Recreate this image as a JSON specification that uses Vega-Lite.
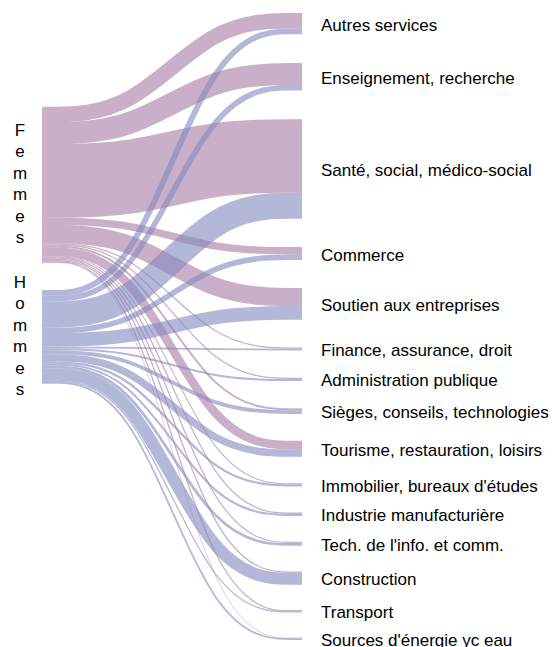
{
  "$schema": "https://vega.github.io/schema/vega-lite/v6.json",
  "autosize": {"type": "none"},
  "width": 260,
  "height": 627,
  "padding": {"left": 42, "top": 13, "right": 251, "bottom": 7},
  "background": "#ffffff",
  "config": {"view": {"stroke": null}, "font": "Liberation Sans"},
  "data": {
    "values": [
      {"sexe": "Femmes", "secteur": "Autres services", "valeur": 6.1},
      {"sexe": "Femmes", "secteur": "Enseignement, recherche", "valeur": 8.7},
      {"sexe": "Femmes", "secteur": "Santé, social, médico-social", "valeur": 29.2},
      {"sexe": "Femmes", "secteur": "Commerce", "valeur": 2.9},
      {"sexe": "Femmes", "secteur": "Soutien aux entreprises", "valeur": 7.2},
      {"sexe": "Femmes", "secteur": "Finance, assurance, droit", "valeur": 0.5},
      {"sexe": "Femmes", "secteur": "Administration publique", "valeur": 0.5},
      {"sexe": "Femmes", "secteur": "Sièges, conseils, technologies", "valeur": 0.8},
      {"sexe": "Femmes", "secteur": "Tourisme, restauration, loisirs", "valeur": 3.4},
      {"sexe": "Femmes", "secteur": "Immobilier, bureaux d'études", "valeur": 0.4},
      {"sexe": "Femmes", "secteur": "Industrie manufacturière", "valeur": 0.5},
      {"sexe": "Femmes", "secteur": "Tech. de l'info. et comm.", "valeur": 0.5},
      {"sexe": "Femmes", "secteur": "Construction", "valeur": 0.5},
      {"sexe": "Femmes", "secteur": "Transport", "valeur": 0.5},
      {"sexe": "Femmes", "secteur": "Sources d'énergie yc eau", "valeur": 0.25},
      {"sexe": "Hommes", "secteur": "Autres services", "valeur": 2.3},
      {"sexe": "Hommes", "secteur": "Enseignement, recherche", "valeur": 2.2},
      {"sexe": "Hommes", "secteur": "Santé, social, médico-social", "valeur": 10.3},
      {"sexe": "Hommes", "secteur": "Commerce", "valeur": 2.2},
      {"sexe": "Hommes", "secteur": "Soutien aux entreprises", "valeur": 5.4},
      {"sexe": "Hommes", "secteur": "Finance, assurance, droit", "valeur": 0.7},
      {"sexe": "Hommes", "secteur": "Administration publique", "valeur": 0.8},
      {"sexe": "Hommes", "secteur": "Sièges, conseils, technologies", "valeur": 1.5},
      {"sexe": "Hommes", "secteur": "Tourisme, restauration, loisirs", "valeur": 2.9},
      {"sexe": "Hommes", "secteur": "Immobilier, bureaux d'études", "valeur": 0.9},
      {"sexe": "Hommes", "secteur": "Industrie manufacturière", "valeur": 0.8},
      {"sexe": "Hommes", "secteur": "Tech. de l'info. et comm.", "valeur": 1.1},
      {"sexe": "Hommes", "secteur": "Construction", "valeur": 4.8},
      {"sexe": "Hommes", "secteur": "Transport", "valeur": 0.5},
      {"sexe": "Hommes", "secteur": "Sources d'énergie yc eau", "valeur": 0.7}
    ]
  },
  "transform": [
    {"window": [{"op": "row_number", "as": "k"}], "groupby": ["sexe"]},
    {"window": [{"op": "sum", "field": "valeur", "as": "cumL"}], "sort": [{"field": "sexe"}, {"field": "k"}], "frame": [null, 0]},
    {"window": [{"op": "sum", "field": "valeur", "as": "cumR"}], "sort": [{"field": "k"}, {"field": "sexe"}], "frame": [null, 0]},
    {"calculate": "(datum.k - 1) * 11.548 - 0.1175 * (datum.k - 1) * datum.k / 2", "as": "gapR"},
    {"calculate": "37.12 + datum.cumL - datum.valeur / 2 + (datum.sexe === 'Hommes' ? 10.67 : 0)", "as": "yl"},
    {"calculate": "datum.cumR - datum.valeur / 2 + datum.gapR", "as": "yr"}
  ],
  "layer": [
    {
      "transform": [
        {"calculate": "datum.yl", "as": "p0"},
        {"calculate": "datum.yl", "as": "p1"},
        {"calculate": "datum.yr", "as": "p2"},
        {"calculate": "datum.yr", "as": "p3"},
        {"fold": ["p0", "p1", "p2", "p3"], "as": ["pt", "yc"]},
        {"calculate": "indexof(['p0','p1','p2','p3'], datum.pt) / 3", "as": "xp"}
      ],
      "mark": {"type": "line", "interpolate": "basis", "strokeOpacity": 0.6, "strokeCap": "butt"},
      "encoding": {
        "x": {"field": "xp", "type": "quantitative", "scale": {"domain": [0, 1], "nice": false, "zero": false}, "axis": null},
        "y": {"field": "yc", "type": "quantitative", "scale": {"domain": [0, 248.38], "nice": false, "zero": false, "reverse": true}, "axis": null},
        "color": {"field": "sexe", "type": "nominal", "scale": {"domain": ["Femmes", "Hommes"], "range": ["#a57aa2", "#8289be"]}, "legend": null},
        "strokeWidth": {"field": "valeur", "type": "quantitative", "scale": {"domain": [0, 248.38], "range": [0, 627], "nice": false, "zero": false}, "legend": null},
        "detail": {"field": "secteur", "type": "nominal"}
      }
    },
    {
      "transform": [
        {"calculate": "datum.cumR - datum.valeur + datum.gapR", "as": "rt"},
        {"calculate": "datum.cumR + datum.gapR", "as": "rb"},
        {"aggregate": [{"op": "min", "field": "rt", "as": "t"}, {"op": "max", "field": "rb", "as": "b"}], "groupby": ["secteur"]},
        {"calculate": "(datum.t + datum.b) / 2", "as": "ym"}
      ],
      "mark": {"type": "text", "align": "left", "baseline": "middle", "dx": 19, "dy": 2, "fontSize": 17, "color": "#000000"},
      "encoding": {
        "x": {"datum": 1, "type": "quantitative"},
        "y": {"field": "ym", "type": "quantitative"},
        "text": {"field": "secteur", "type": "nominal"}
      }
    },
    {
      "transform": [
        {"calculate": "37.12 + datum.cumL - datum.valeur + (datum.sexe === 'Hommes' ? 10.67 : 0)", "as": "lt"},
        {"calculate": "datum.lt + datum.valeur", "as": "lb"},
        {"aggregate": [{"op": "min", "field": "lt", "as": "t"}, {"op": "max", "field": "lb", "as": "b"}], "groupby": ["sexe"]},
        {"calculate": "(datum.t + datum.b) / 2", "as": "ym"},
        {"calculate": "split(datum.sexe, '')", "as": "lettres"}
      ],
      "mark": {"type": "text", "align": "center", "baseline": "middle", "dx": -22, "dy": -54, "fontSize": 17, "lineHeight": 21.5, "color": "#000000"},
      "encoding": {
        "x": {"datum": 0, "type": "quantitative"},
        "y": {"field": "ym", "type": "quantitative"},
        "text": {"field": "lettres", "type": "nominal"}
      }
    }
  ]
}
